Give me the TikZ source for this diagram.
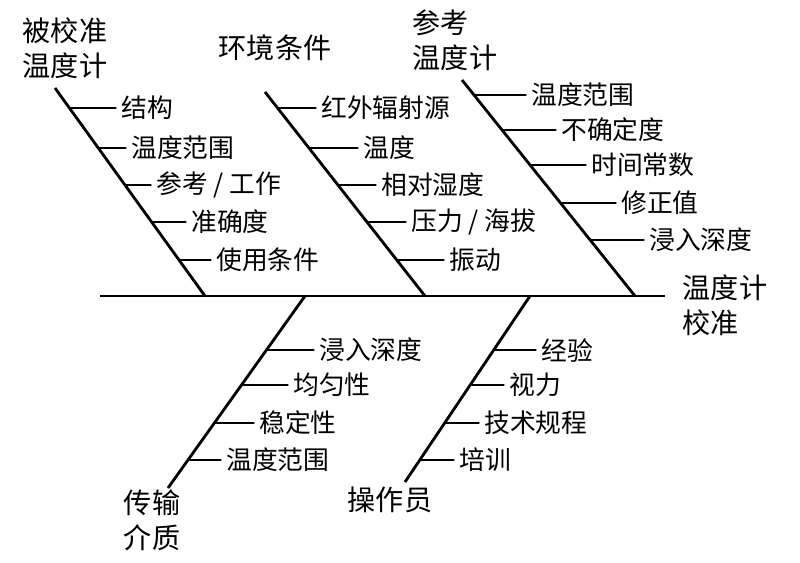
\documentclass[tikz,border=0pt]{standalone}
\usepackage{fontspec}
\setmainfont{Noto Sans CJK SC}
\usetikzlibrary{positioning,calc}
\tikzstyle{bone}=[line width=2.4pt]
\tikzstyle{tick}=[line width=1.6pt]
\tikzstyle{cause}=[inner sep=1pt, anchor=west, font=\fontsize{22}{26}\selectfont]
\tikzstyle{head}=[inner sep=0pt, align=left, font=\fontsize{24}{30}\selectfont]
\begin{document}
\begin{tikzpicture}[x=0.03cm, y=-0.03cm]
\useasboundingbox (0,0) rectangle (800,563);

% spine
\coordinate (S0) at (100,296);
\coordinate (S1) at (665,296);
\draw[bone] (S0) -- (S1);

% bones
\coordinate (A1) at (55,88);   \coordinate (B1) at (205,296);
\coordinate (A2) at (265,92);  \coordinate (B2) at (425,296);
\coordinate (A3) at (462,80);  \coordinate (B3) at (635,296);
\coordinate (A4) at (305,296); \coordinate (B4) at (168,488);
\coordinate (A5) at (530,296); \coordinate (B5) at (405,482);
\foreach \b in {1,...,5} \draw[bone] (A\b) -- (B\b);

% causes: bone, y of bone start, y of bone end, text x, text y, text
\foreach \b/\ya/\yb/\tx/\ty/\txt [count=\i] in {
  1/88/296/120/108/结构, 1/88/296/130/148/温度范围, 1/88/296/155/185/{参考 / 工作},
  1/88/296/190/222/准确度, 1/88/296/215/260/使用条件,
  2/92/296/320/108/红外辐射源, 2/92/296/362/148/温度, 2/92/296/380/185/相对湿度,
  2/92/296/410/222/{压力 / 海拔}, 2/92/296/448/260/振动,
  3/80/296/530/95/温度范围, 3/80/296/560/130/不确定度, 3/80/296/590/165/时间常数,
  3/80/296/620/203/修正值, 3/80/296/648/240/浸入深度,
  4/296/488/318/350/浸入深度, 4/296/488/292/385/均匀性, 4/296/488/258/423/稳定性,
  4/296/488/225/460/温度范围,
  5/296/482/540/350/经验, 5/296/482/508/385/视力, 5/296/482/483/423/技术规程,
  5/296/482/458/460/培训}{
  \pgfmathsetmacro\t{(\ty-\ya)/(\yb-\ya)}
  \node[cause] (c\i) at (\tx,\ty) {\txt};
  \coordinate (p\i) at ($(A\b)!\t!(B\b)$);
  \draw[tick] (p\i) -- ([xshift=-3pt]c\i.west);
}

% heads
\node[head] (calUUT) at (65,48) {被校准\\温度计};
\node[head] (env) at (275,48) {环境条件};
\node[head] (ref) at (455,40) {参考\\温度计};
\node[head] (effect) at (725,305) {温度计\\校准};
\node[head] (medium) at (152,520) {传输\\介质};
\node[head] (oper) at (390,500) {操作员};
\end{tikzpicture}
\end{document}
